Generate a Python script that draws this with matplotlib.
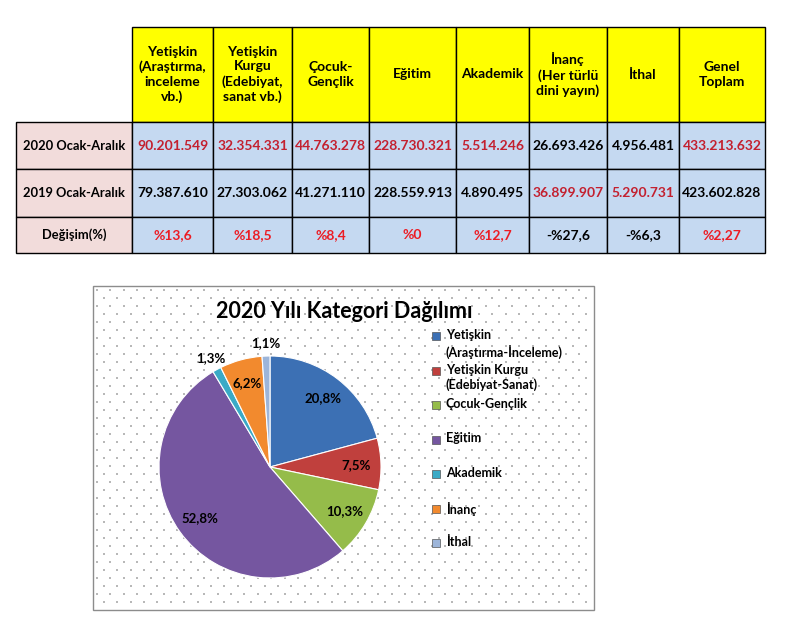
import matplotlib
matplotlib.use('Agg')
import matplotlib.pyplot as plt
from matplotlib.patches import Rectangle
import numpy as np

plt.rcParams['font.family'] = ['Lato', 'DejaVu Sans']

# data #
headers = ['Yetişkin\n(Araştırma,\ninceleme\nvb.)', 'Yetişkin\nKurgu\n(Edebiyat,\nsanat vb.)',
           'Çocuk-\nGençlik', 'Eğitim', 'Akademik', 'İnanç\n(Her türlü\ndini yayın)',
           'İthal', 'Genel\nToplam']
row_labels = ['2020 Ocak-Aralık', '2019 Ocak-Aralık', 'Değişim(%)']
values_2020 = [90201549, 32354331, 44763278, 228730321, 5514246, 26693426, 4956481, 433213632]
values_2019 = [79387610, 27303062, 41271110, 228559913, 4890495, 36899907, 5290731, 423602828]
change = ['%13,6', '%18,5', '%8,4', '%0', '%12,7', '-%27,6', '-%6,3', '%2,27']
red_2020 = [True, True, True, True, True, False, False, True]
red_2019 = [False, False, False, False, False, True, True, False]
red_change = [True, True, True, True, True, False, False, True]

pie_labels = ['Yetişkin\n(Araştırma-İnceleme)', 'Yetişkin Kurgu\n(Edebiyat-Sanat)', 'Çocuk-Gençlik',
              'Eğitim', 'Akademik', 'İnanç', 'İthal']
pie_values = values_2020[:7]
pie_colors = ['#3C70B4', '#C0403D', '#95BC4A', '#7556A0', '#3AAAC6', '#F28A2E', '#9DB5D9']
title = '2020 Yılı Kategori Dağılımı'


def fmt(v):
    return f'{v:,}'.replace(',', '.')


fig = plt.figure(figsize=(7.85, 6.26), dpi=100)
ax = fig.add_axes([0, 0, 1, 1])
ax.set_xlim(0, 785)
ax.set_ylim(626, 0)
ax.axis('off')

# table #
xs = [16, 132, 213, 292, 369, 456, 529, 607, 679, 765]
ys = [27, 122, 169, 217, 253]
dark_red = '#C3202F'
bright_red = '#EC1C24'

for j, h in enumerate(headers):
    x0, x1 = xs[j + 1], xs[j + 2]
    ax.add_patch(Rectangle((x0, ys[0]), x1 - x0, ys[1] - ys[0], facecolor='#FFFF00',
                           edgecolor='black', lw=1))
    ax.text((x0 + x1) / 2, (ys[0] + ys[1]) / 2, h, ha='center', va='center',
            fontsize=10, fontweight='bold', linespacing=1.25)

rows = [([fmt(v) for v in values_2020], red_2020, dark_red),
        ([fmt(v) for v in values_2019], red_2019, dark_red),
        (change, red_change, bright_red)]

for i, (cells, reds, rc) in enumerate(rows):
    y0, y1 = ys[i + 1], ys[i + 2]
    ax.add_patch(Rectangle((xs[0], y0), xs[1] - xs[0], y1 - y0, facecolor='#F2DCDB',
                           edgecolor='black', lw=1))
    ax.text((xs[0] + xs[1]) / 2, (y0 + y1) / 2, row_labels[i], ha='center', va='center',
            fontsize=9.3, fontweight='bold')
    for j, c in enumerate(cells):
        x0, x1 = xs[j + 1], xs[j + 2]
        ax.add_patch(Rectangle((x0, y0), x1 - x0, y1 - y0, facecolor='#C5D9F1',
                               edgecolor='black', lw=1))
        ax.text((x0 + x1) / 2, (y0 + y1) / 2, c, ha='center', va='center',
                fontsize=10, fontweight='bold', color=rc if reds[j] else 'black')

# chart frame with dotted background #
fx0, fy0, fx1, fy1 = 93, 286, 594, 610
ax.add_patch(Rectangle((fx0, fy0), fx1 - fx0, fy1 - fy0, facecolor='white',
                       edgecolor='#8C8C8C', lw=1, zorder=1))
dx, dy = 6.7, 8.0
pts = []
for k, yy in enumerate(np.arange(fy0 + 4, fy1 - 2, dy)):
    off = 0 if k % 2 == 0 else dx
    for xx in np.arange(fx0 + 4 + off, fx1 - 2, 2 * dx):
        pts.append((xx, yy))
pts = np.array(pts)
ax.scatter(pts[:, 0], pts[:, 1], s=0.6, color='#B8B8B8', marker='s', lw=0, zorder=2)

ax.text(344, 312, title, ha='center', va='center', fontsize=15.5, fontweight='bold', zorder=3)

# legend #
ly = 336
for lab, col in zip(pie_labels, pie_colors):
    ax.add_patch(Rectangle((432, ly - 4), 8, 8, facecolor=col, edgecolor='#555555',
                           lw=0.5, zorder=3))
    ax.text(446, ly - 7, lab, ha='left', va='top', fontsize=9, fontweight='bold',
            linespacing=1.3, zorder=3)
    ly += 34.5

# pie #
cx, cy, r = 270, 467, 111
pax = fig.add_axes([(cx - r) / 785, (626 - cy - r) / 626, 2 * r / 785, 2 * r / 626])
wedges, _ = pax.pie(pie_values, colors=pie_colors, startangle=90, counterclock=False,
                    wedgeprops=dict(edgecolor='white', lw=0.8))
pax.set_xlim(-1, 1)
pax.set_ylim(-1, 1)
pax.axis('off')

total = sum(pie_values)
for w, v in zip(wedges, pie_values):
    p = 100 * v / total
    ang = np.deg2rad((w.theta1 + w.theta2) / 2)
    d = 1.12 if p < 2 else 0.78
    pax.text(d * np.cos(ang), d * np.sin(ang), f'{p:.1f}%'.replace('.', ','),
             ha='center', va='center', fontsize=9.5, fontweight='bold')

plt.savefig('out.png', dpi=100)
